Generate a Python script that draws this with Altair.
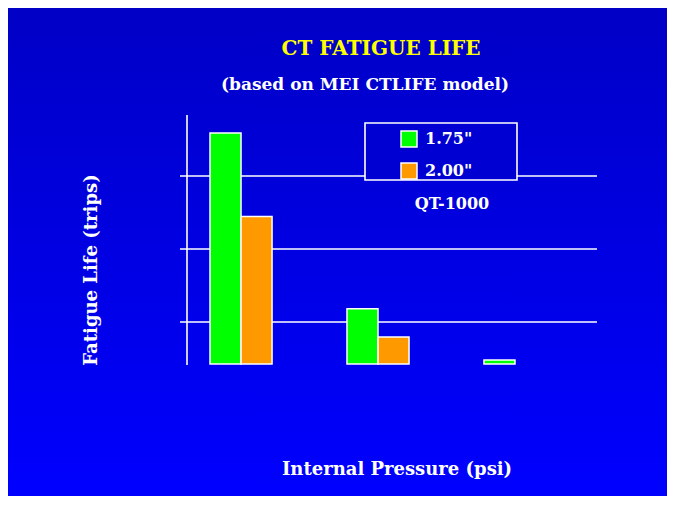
import altair as alt
import pandas as pd

# ---- data (axis has no labels; units are trips, estimated) ----
pressures = ["P1", "P2", "P3"]
series = ['1.75"', '2.00"']
life_175 = [3165, 755, 55]
life_200 = [2020, 370, 0]
grid_values = [575, 1575, 2575]
y_max = 3410

rows = []
for i, p in enumerate(pressures):
    rows.append({"pressure": p, "size": series[0], "trips": life_175[i]})
    rows.append({"pressure": p, "size": series[1], "trips": life_200[i]})
df = pd.DataFrame(rows)

W, H = 410, 249
PL, PT = 179, 107
TOTAL_W, TOTAL_H = 659, 488
PR = TOTAL_W - PL - W
PB = TOTAL_H - PT - H
FONT = "DejaVu Serif"

yscale = alt.Scale(domain=[0, y_max], nice=False, zero=True)
one = pd.DataFrame({"a": [0]})

bg = alt.Chart(one).mark_rect(
    fill=alt.LinearGradient(
        gradient="linear",
        stops=[alt.GradientStop(color="#0000C6", offset=0),
               alt.GradientStop(color="#0000FF", offset=1)],
        x1=0, x2=0, y1=0, y2=1),
).encode(x=alt.value(-PL), x2=alt.value(W + PR), y=alt.value(-PT), y2=alt.value(H + PB))

grid = alt.Chart(pd.DataFrame({"trips": grid_values})).mark_rule(
    color="white", strokeWidth=1.6
).encode(y=alt.Y("trips:Q", scale=yscale, axis=None), x=alt.value(-7), x2=alt.value(W))

legend_box = alt.Chart(one).mark_rect(
    fill="#0000D2", stroke="white", strokeWidth=1.6
).encode(x=alt.value(178), x2=alt.value(330), y=alt.value(8), y2=alt.value(65))

axis_line = alt.Chart(one).mark_rule(color="white", strokeWidth=1.6).encode(
    x=alt.value(0), y=alt.value(0), y2=alt.value(H + 1))

bars = alt.Chart(df).transform_filter("datum.trips > 0").mark_bar(
    stroke="white", strokeWidth=1.5, opacity=1
).encode(
    x=alt.X("pressure:N", sort=pressures, axis=None,
            scale=alt.Scale(range=[23, 359], paddingInner=0.547, paddingOuter=0)),
    xOffset=alt.XOffset("size:N", sort=series,
                        scale=alt.Scale(paddingInner=0, paddingOuter=0)),
    y=alt.Y("trips:Q", scale=yscale, axis=None),
    color=alt.Color(
        "size:N", sort=series,
        scale=alt.Scale(domain=series, range=["#00FF00", "#FF9900"]),
        legend=alt.Legend(
            title=None, orient="none", legendX=213, legendY=15,
            symbolType="square", symbolSize=256, symbolStrokeColor="white",
            symbolStrokeWidth=1.5, symbolOpacity=1,
            labelColor="white", labelFont=FONT, labelFontWeight="bold",
            labelFontSize=16, labelOffset=7, rowPadding=10, padding=0,
        ),
    ),
)


def label(txt, x, y, size, color="white", angle=0):
    return alt.Chart(one).mark_text(
        text=txt, font=FONT, fontWeight="bold", fontSize=size, color=color,
        align="center", baseline="middle", angle=angle,
    ).encode(x=alt.value(x), y=alt.value(y))


title = label("CT FATIGUE LIFE", 194, -66, 20, color="#FFFF00")
subtitle = label("(based on MEI CTLIFE model)", 178, -30, 17)
qt = label("QT-1000", 265, 89, 16)
xtitle = label("Internal Pressure (psi)", 210, 355, 18)
ytitle = label("Fatigue Life (trips)", -95, 155, 18, angle=270)

chart = alt.layer(
    bg, grid, legend_box, axis_line, bars, title, subtitle, qt, xtitle, ytitle
).properties(
    width=W, height=H,
    padding={"left": PL, "top": PT, "right": PR, "bottom": PB},
    autosize=alt.AutoSizeParams(type="none"),
    background="#0000D8",
).configure_view(stroke=None)

chart.save("out.html", embed_options={"renderer": "svg", "actions": False})
